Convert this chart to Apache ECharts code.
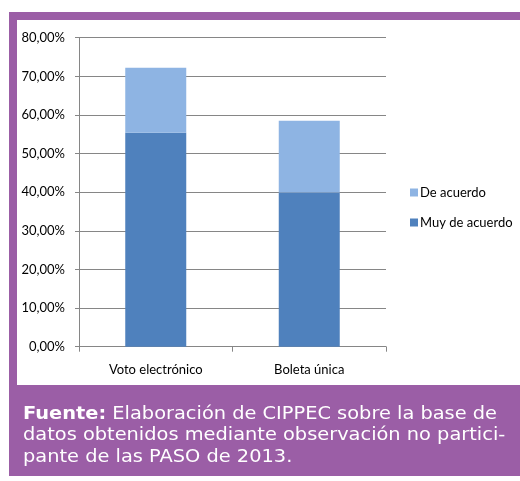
<!DOCTYPE html>
<html>
<head>
<meta charset="utf-8">
<script src="https://cdn.jsdelivr.net/npm/echarts@6/dist/echarts.min.js"></script>
<style>
html,body{margin:0;padding:0;background:#fff;}
#c{width:520px;height:481px;}
</style>
</head>
<body>
<div id="c"></div>
<script>
var categories = ['Voto electrónico', 'Boleta única'];
var muyDeAcuerdo = [55.4, 39.9];
var deAcuerdo = [16.8, 18.6];
var seriesNames = ['Muy de acuerdo', 'De acuerdo'];
var footerLines = [
  ['Fuente:', ' Elaboración de CIPPEC sobre la base de'],
  ['', 'datos obtenidos mediante observación no partici-'],
  ['', 'pante de las PASO de 2013.']
];

var purple = '#9B5EA6';
var chartFont = 'Lato, "Liberation Sans", sans-serif';
var footFont = '"DejaVu Sans", sans-serif';

var graphics = [
  {type:'rect', shape:{x:9, y:12, width:511, height:8}, style:{fill:purple}, z:0},
  {type:'rect', shape:{x:9, y:12, width:8, height:373}, style:{fill:purple}, z:0},
  {type:'rect', shape:{x:9, y:385, width:511, height:91}, style:{fill:purple}, z:0}
];
footerLines.forEach(function(l, i){
  graphics.push({
    type:'text', x:23, y:406 + i*21.5, scaleX:1.14, z:10,
    style:{
      text: (l[0] ? '{b|' + l[0] + '}' : '') + '{n|' + l[1] + '}',
      rich:{
        b:{fill:'#fff', font:'bold 17px ' + footFont},
        n:{fill:'#fff', font:'17px ' + footFont}
      }
    }
  });
});

var chart = echarts.init(document.getElementById('c'));
chart.setOption({
  animation:false,
  backgroundColor:'#fff',
  graphic: graphics,
  grid:{left:79, top:37.7, width:307, height:309},
  legend:{
    orient:'vertical', left:405, top:181,
    data:[seriesNames[1], seriesNames[0]],
    itemWidth:8, itemHeight:8, itemGap:17,
    icon:'rect',
    textStyle:{fontFamily:chartFont, fontSize:13, color:'#000', padding:[0,0,0,-3]}
  },
  xAxis:{
    type:'category', data:categories,
    axisLine:{lineStyle:{color:'#868686'}},
    axisTick:{show:true, length:5, lineStyle:{color:'#868686'}},
    axisLabel:{fontFamily:chartFont, fontSize:13, color:'#000', margin:17}
  },
  yAxis:{
    type:'value', min:0, max:80, interval:10,
    axisLine:{show:true, lineStyle:{color:'#868686'}},
    axisTick:{show:true, length:4, lineStyle:{color:'#868686'}},
    splitLine:{lineStyle:{color:'#868686'}},
    axisLabel:{
      fontFamily:chartFont, fontSize:13, color:'#000', margin:14,
      formatter:function(v){ return v.toFixed(2).replace('.', ',') + '%'; }
    }
  },
  series:[
    {name:seriesNames[0], type:'bar', stack:'a', data:muyDeAcuerdo, barWidth:61,
     itemStyle:{color:'#4F81BD'}},
    {name:seriesNames[1], type:'bar', stack:'a', data:deAcuerdo, barWidth:61,
     itemStyle:{color:'#8EB4E3'}}
  ]
});
</script>
</body>
</html>
